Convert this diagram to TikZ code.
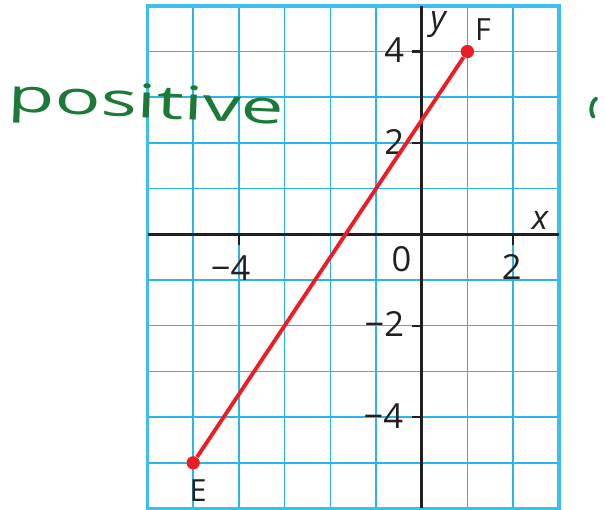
\documentclass[tikz,border=0pt]{standalone}
\usepackage{fontspec}
\setmainfont{Open Sans}
\definecolor{gridblue}{RGB}{41,182,236}
\definecolor{borderblue}{RGB}{60,190,240}
\definecolor{linered}{RGB}{237,28,36}
\definecolor{inkgreen}{RGB}{28,122,56}
\definecolor{axisblack}{RGB}{35,31,32}
\tikzset{
  gridline/.style={draw=gridblue, line width=0.9pt},
  borderline/.style={draw=borderblue, line width=2.4pt},
  axisline/.style={draw=axisblack, line width=1.5pt},
  tickline/.style={draw=axisblack, line width=1.3pt},
  lbl/.style={text=axisblack, inner sep=0pt, font=\fontsize{21.5}{24}\selectfont},
  varlbl/.style={text=axisblack, inner sep=0pt, font=\fontsize{21}{24}\selectfont\itshape},
  ptlbl/.style={text=axisblack, inner sep=0pt, font=\fontsize{19}{22}\selectfont},
  ptdot/.style={circle, fill=linered, inner sep=0pt, minimum size=0.29cm},
  segline/.style={draw=linered, line width=2.4pt},
  hand/.style={text=inkgreen, inner sep=0pt},
  inkline/.style={draw=inkgreen, line width=2.4pt, line cap=round}
}
\begin{document}
\begin{tikzpicture}[x=1cm,y=1cm]
\useasboundingbox (-9.228,-6.033) rectangle (4.011,5.127);
% grid
\draw[gridline] (-6,-6) grid (3,5);
\draw[borderline] (-6,-6) rectangle (3,5);
% axes
\coordinate (xl) at (-6,0);
\coordinate (xr) at (3,0);
\coordinate (yb) at (0,-6);
\coordinate (yt) at (0,5);
\draw[axisline] (xl) -- (xr);
\draw[axisline] (yb) -- (yt);
% ticks
\foreach \t in {-4,2} { \draw[tickline] (\t,0) -- (\t,-0.24); }
\foreach \t in {4,2,-2,-4} { \draw[tickline] (0,\t) -- (-0.22,\t); }
% tick labels
\node[lbl] (xm4) at (-4.18,-0.74) {−4};
\node[lbl] (x0) at (-0.44,-0.55) {0};
\node[lbl] (x2) at (1.97,-0.71) {2};
\node[lbl, anchor=east] (y4) at (-0.38,4.02) {4};
\node[lbl, anchor=east] (y2) at (-0.38,2.02) {2};
\node[lbl, anchor=east] (ym2) at (-0.38,-1.97) {−2};
\node[lbl, anchor=east] (ym4) at (-0.40,-3.97) {−4};
% axis names
\node[varlbl] (ylab) at (0.36,4.58) {y};
\node[varlbl] (xlab) at (2.59,0.31) {x};
% segment
\node[ptdot] (E) at (-5,-5) {};
\node[ptdot] (F) at (1,4) {};
\draw[segline] (E) -- (F);
\node[ptlbl] (Elab) at (-4.89,-5.6) {E};
\node[ptlbl] (Flab) at (1.34,4.47) {F};
% handwriting
\node[hand, anchor=base west, rotate=-2.5] (pos) at (-9.07,2.68)
  {\resizebox{6.04cm}{\height}{\fontsize{29}{32}\selectfont positive}};
\draw[inkline] (3.82,2.97) .. controls (3.70,2.90) and (3.68,2.66) .. (3.76,2.57);
\end{tikzpicture}
\end{document}
